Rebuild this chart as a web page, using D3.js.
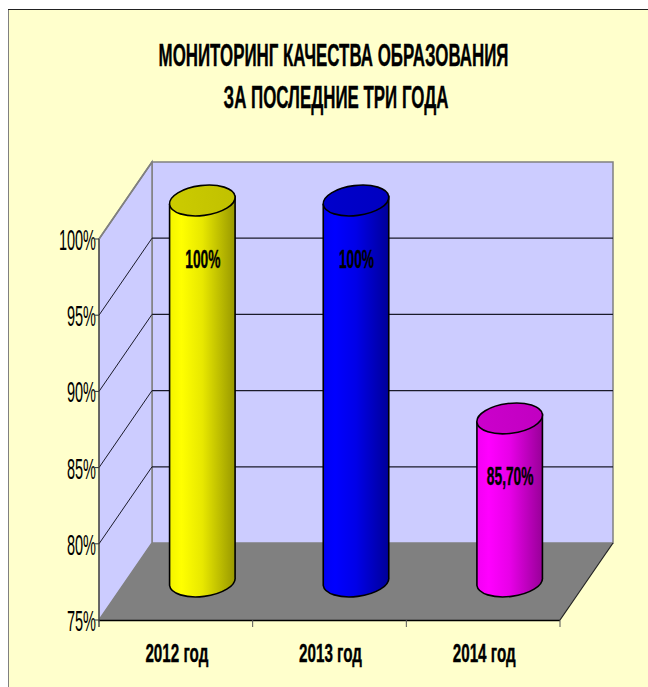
<!DOCTYPE html>
<html><head><meta charset="utf-8">
<script src="https://cdn.jsdelivr.net/npm/d3@7"></script>
<style>html,body{margin:0;padding:0;background:#fff;overflow:hidden}svg{display:block}text{font-family:"Liberation Sans",sans-serif;fill:#000}</style>
</head><body><svg id="c" width="648" height="687"></svg>
<script>
const titleLines = ["МОНИТОРИНГ КАЧЕСТВА ОБРАЗОВАНИЯ", "ЗА ПОСЛЕДНИЕ ТРИ ГОДА"];
const categories = ["2012 год", "2013 год", "2014 год"];
const values = [100, 100, 85.7];
const valueLabels = ["100%", "100%", "85,70%"];
const yTicks = [75, 80, 85, 90, 95, 100];
const tickLabels = ["75%", "80%", "85%", "90%", "95%", "100%"];
const barColors = ["#ffff00", "#0000ff", "#ff00ff"];

const svg = d3.select("#c"), defs = svg.append("defs");
const depthX = 53, depthY = 77;
const x = d3.scaleBand().domain(categories).range([99, 560]);
const y = d3.scaleLinear().domain([75, 100]).range([620, 239]);
const [xL, xR] = x.range(), y0 = y(75), y1 = y(100);

// background
svg.append("rect").attr("x", 8.5).attr("y", 9.5).attr("width", 660).attr("height", 700)
  .attr("fill", "#ffffcc").attr("stroke", "#808080");
svg.append("line").attr("x1", 8).attr("x2", 648).attr("y1", 9.5).attr("y2", 9.5).attr("stroke", "#222");

// walls
const poly = pts => d3.line()(pts) + "Z";
svg.append("path").attr("d", poly([[xL + depthX, y1 - depthY], [xR + depthX, y1 - depthY], [xR + depthX, y0 - depthY], [xL + depthX, y0 - depthY]]))
  .attr("fill", "#ccccff").attr("stroke", "#808080").attr("stroke-width", 1.5);
svg.append("path").attr("d", poly([[xL, y1], [xL + depthX, y1 - depthY], [xL + depthX, y0 - depthY], [xL, y0]]))
  .attr("fill", "#ccccff").attr("stroke", "#808080").attr("stroke-width", 1.5);
svg.append("path").attr("d", poly([[xL, y0], [xL + depthX, y0 - depthY], [xR + depthX, y0 - depthY], [xR, y0]]))
  .attr("fill", "#808080");

// gridlines
yTicks.filter(t => t > 75 && t < 100).forEach(t => {
  svg.append("line").attr("x1", xL + depthX).attr("x2", xR + depthX).attr("y1", y(t) - depthY).attr("y2", y(t) - depthY)
    .attr("stroke", "#1a1a2a").attr("stroke-width", 1.3);
});
yTicks.filter(t => t > 75).forEach(t => {
  svg.append("line").attr("x1", xL).attr("x2", xL + depthX).attr("y1", y(t)).attr("y2", y(t) - depthY)
    .attr("stroke", t === 100 ? "#808080" : "#1a1a2a").attr("stroke-width", t === 100 ? 1.5 : 1);
});

// axes lines
svg.append("line").attr("x1", xL).attr("x2", xL).attr("y1", y1).attr("y2", y0 + 7).attr("stroke", "#333");
svg.append("line").attr("x1", xL).attr("x2", xR).attr("y1", y0 + .5).attr("y2", y0 + .5).attr("stroke", "#000").attr("stroke-width", 1.6);
svg.append("line").attr("x1", xR).attr("x2", xR + depthX).attr("y1", y0).attr("y2", y0 - depthY).attr("stroke", "#222").attr("stroke-width", 1.2);
[...categories.map(c => x(c)), xR].forEach(t => {
  svg.append("line").attr("x1", t).attr("x2", t).attr("y1", y0).attr("y2", y0 + 7).attr("stroke", "#555");
});
yTicks.forEach(t => svg.append("line").attr("x1", xL - 4).attr("x2", xL).attr("y1", y(t)).attr("y2", y(t)).attr("stroke", "#333"));

function squeezed(px, py, str, size, weight, sx, anchor, sw) {
  return svg.append("text").attr("transform", `translate(${px},${py}) scale(${sx},1)`)
    .attr("text-anchor", anchor).attr("font-size", size).attr("font-weight", weight)
    .attr("stroke", "#000").attr("stroke-width", sw || 0).text(str);
}
yTicks.forEach((t, i) => squeezed(96, y(t) + 11, tickLabels[i], 29, "normal", 0.5, "end"));
categories.forEach(c => squeezed(x(c) + x.bandwidth() / 2 + 1, 662, c, 26, "bold", 0.585, "middle", 0.4));

// cylinders
const rx = 33, ry = 15, rot = -7, rad = rot * Math.PI / 180;
const ex = rx * Math.cos(rad), ey = rx * Math.sin(rad);
const cxOf = c => x(c) + x.bandwidth() / 2 + depthX / 2;
const yMid = v => y(v) - depthY / 2;

barColors.forEach((col, i) => {
  const dark = d3.color(col).darker(1.45), c = d3.color(col);
  const g = defs.append("linearGradient").attr("id", "body" + i);
  [[0, d3.interpolateRgb(c, dark)(0.12)], [0.18, c], [0.5, d3.interpolateRgb(c, dark)(0.22)], [1, d3.interpolateRgb(c, dark)(1)]]
    .forEach(([o, k]) => g.append("stop").attr("offset", o).attr("stop-color", k));
  const h = defs.append("linearGradient").attr("id", "cap" + i);
  [[0, d3.interpolateRgb(c, dark)(0.5)], [1, d3.interpolateRgb(c, dark)(0.6)]]
    .forEach(([o, k]) => h.append("stop").attr("offset", o).attr("stop-color", k));
});

categories.forEach((c, i) => {
  const cx = cxOf(c), yt = yMid(values[i]), yb = yMid(75);
  svg.append("path")
    .attr("d", `M${cx - ex},${yt - ey} L${cx - ex},${yb - ey} A${rx},${ry} ${rot} 0 0 ${cx + ex},${yb + ey} L${cx + ex},${yt + ey} Z`)
    .attr("fill", `url(#body${i})`).attr("stroke", "#000").attr("stroke-width", 1.6);
  svg.append("ellipse").attr("transform", `translate(${cx},${yt}) rotate(${rot})`)
    .attr("rx", rx).attr("ry", ry).attr("fill", `url(#cap${i})`).attr("stroke", "#000").attr("stroke-width", 1.6);
  squeezed(cx + 0.5, yt + 67, valueLabels[i], 26, "bold", 0.53, "middle", 0.4);
});

// title
titleLines.forEach((t, i) => squeezed(i ? 336 : 333.5, 66 + i * 42, t, 31, "bold", 0.545, "middle", 0.4));
</script></body></html>
